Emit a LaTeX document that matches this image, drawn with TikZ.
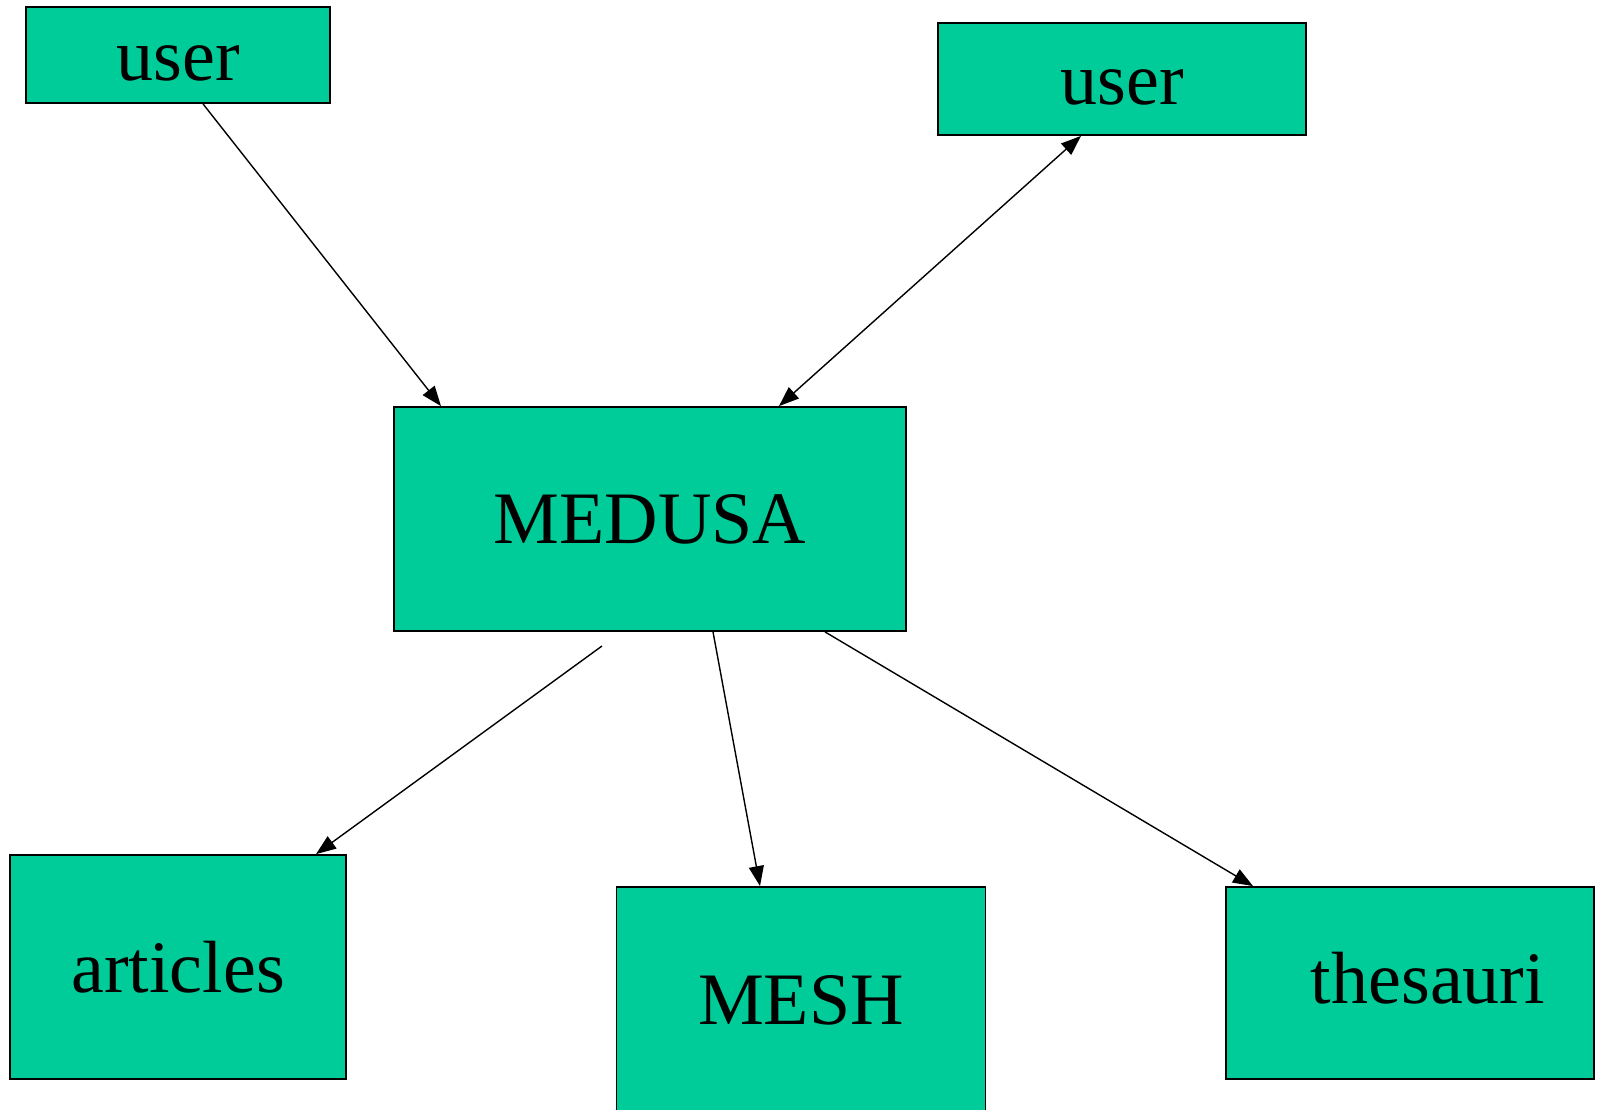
\documentclass[tikz,border=0pt]{standalone}
\usepackage{fontspec}
\setmainfont{Liberation Serif}
\usetikzlibrary{arrows.meta}
\definecolor{boxgreen}{RGB}{0,204,153}
\tikzset{
	box/.style={draw, line width=1.8pt, fill=boxgreen, inner sep=0pt, font=\fontsize{74}{88}\selectfont},
	low/.style={text height=52pt, text depth=0pt},
	tip/.style={Triangle[length=20pt,width=15pt]},
	link/.style={line width=1.4pt, -{Triangle[length=20pt,width=15pt]}}
}
\begin{document}
\begin{tikzpicture}[x=1pt,y=-1pt]
		\useasboundingbox (0,0) rectangle (1600,1110);
		\node[box, low, minimum width=304pt, minimum height=96pt] (user1) at (178,55) {user};
		\node[box, low, minimum width=368pt, minimum height=112pt] (user2) at (1122,79) {user};
		
		\node[box, minimum width=512pt, minimum height=224pt] (medusa) at (650,519) {MEDUSA};
		
		\node[box, minimum width=336pt, minimum height=224pt] (articles) at (178,967) {articles};
		\node[box, minimum width=369pt, minimum height=226pt] (mesh) at (801,1000) {MESH};
		\node[box, text depth=10pt, minimum width=368pt, minimum height=192pt] (thesauri) at (1410,983) {\hspace*{36pt}thesauri};
		
		\coordinate (gap) at (602,646);
		
		\draw[link] ([xshift=25pt]user1.south) to ([xshift=-209pt]medusa.north);
		\draw[link, {Triangle[length=20pt,width=15pt]}-{Triangle[length=20pt,width=15pt]}] ([xshift=129pt]medusa.north) to ([xshift=-41pt]user2.south);
		\draw[link] (gap) to ([xshift=138pt]articles.north);
		\draw[link] ([xshift=63pt]medusa.south) to ([xshift=-41pt]mesh.north);
		\draw[link] ([xshift=175pt]medusa.south) to ([xshift=-157pt]thesauri.north);
	\end{tikzpicture}
\end{document}
